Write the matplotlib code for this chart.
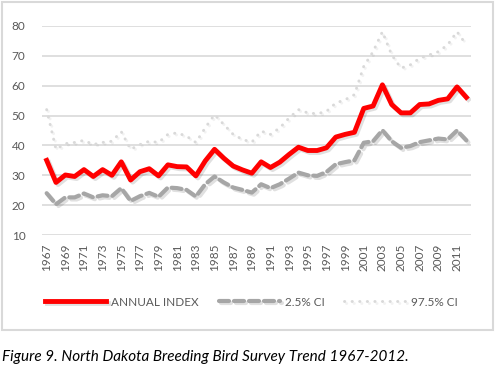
import matplotlib
matplotlib.use("Agg")
import matplotlib.pyplot as plt
import matplotlib.patheffects as pe
from matplotlib.patches import Rectangle

plt.rcParams['font.family'] = ['Lato', 'DejaVu Sans']

# categorias (años)
years = list(range(1967, 2013))

# indice anual
annual_index = [35.0, 27.6, 30.1, 29.6, 31.9, 29.6, 31.9, 30.0, 34.5, 28.4,
                31.2, 32.2, 29.8, 33.5, 32.9, 32.8, 29.8, 34.8, 38.7, 35.7,
                33.1, 31.8, 30.7, 34.5, 32.6, 34.4, 37.0, 39.4, 38.3, 38.3,
                39.2, 42.8, 43.7, 44.4, 52.4, 53.2, 60.3, 53.7, 50.9, 50.9,
                53.7, 53.9, 55.1, 55.6, 59.6, 56.1]

# limite inferior 2.5%
ci_low = [24.0, 20.3, 22.6, 22.6, 23.9, 22.6, 23.3, 23.0, 25.7, 21.4,
          23.0, 24.1, 22.8, 25.9, 25.7, 25.1, 22.9, 27.0, 29.6, 27.6,
          25.9, 25.1, 24.2, 27.0, 25.7, 27.0, 28.9, 30.9, 30.0, 29.8,
          31.1, 33.7, 34.4, 35.0, 40.9, 41.4, 45.1, 41.4, 39.2, 39.8,
          41.1, 41.7, 42.3, 42.0, 45.0, 41.7]

# limite superior 97.5%
ci_high = [52.0, 38.7, 40.6, 41.0, 41.7, 40.3, 41.0, 41.4, 44.6, 38.7,
           40.3, 41.4, 41.0, 43.7, 44.2, 43.1, 41.0, 45.9, 50.3, 47.0,
           43.7, 42.0, 41.1, 44.8, 43.7, 45.9, 49.2, 52.0, 50.9, 50.6,
           51.4, 54.2, 55.3, 57.0, 66.5, 71.4, 78.1, 70.3, 65.9, 67.0,
           69.2, 70.3, 71.4, 73.7, 78.1, 73.7]

W, H = 497, 368
fig = plt.figure(figsize=(W / 100, H / 100), dpi=100)

# marco del grafico
fig.patches.append(Rectangle((2 / W, 1 - 330 / H), 491 / W, 328 / H,
                             transform=fig.transFigure, fill=False,
                             edgecolor='#d9d9d9', linewidth=1.5))

ax = fig.add_axes([42 / W, 1 - 235 / H, 429 / W, 209 / H])
x = list(range(len(years)))

sombra = [pe.SimpleLineShadow(offset=(1.5, -1.5), shadow_color='k', alpha=0.12),
          pe.Normal()]
sombra_suave = [pe.SimpleLineShadow(offset=(1.2, -1.2), shadow_color='k', alpha=0.05),
                pe.Normal()]

ax.plot(x, ci_high, color='#d9d9d9', linewidth=2.1, linestyle=(0, (0.1, 2.5)),
        dash_capstyle='round', solid_capstyle='round', label='97.5% CI',
        path_effects=sombra_suave, zorder=3)
ax.plot(x, ci_low, color='#a6a6a6', linewidth=3.0, linestyle=(0, (2.4, 1.2)),
        dash_capstyle='round', label='2.5% CI', path_effects=sombra, zorder=4)
ax.plot(x, annual_index, color='#ff0000', linewidth=3.5, solid_joinstyle='round',
        label='ANNUAL INDEX', path_effects=sombra, zorder=5)

ax.set_xlim(-0.5, len(years) - 0.5)
ax.set_ylim(10, 80)
ax.set_yticks(range(10, 81, 10))
ax.set_xticks(x[::2])
ax.set_xticklabels([str(y) for y in years[::2]], rotation=90)
ax.tick_params(axis='both', length=0, labelsize=8.5, colors='#595959')
ax.tick_params(axis='y', pad=12)
ax.tick_params(axis='x', pad=6)
ax.grid(axis='y', color='#d9d9d9', linewidth=1.2)
ax.set_axisbelow(True)
for s in ax.spines.values():
    s.set_visible(False)

handles, labels = ax.get_legend_handles_labels()
orden = [2, 1, 0]
leg = fig.legend([handles[i] for i in orden], [labels[i] for i in orden],
                 ncol=3, loc='center', bbox_to_anchor=(251 / W, 1 - 302 / H),
                 frameon=False, fontsize=8.5, handlelength=5.2,
                 handletextpad=0.4, columnspacing=1.7, labelcolor='#595959')

fig.text(2 / W, 1 - 357 / H,
         'Figure 9. North Dakota Breeding Bird Survey Trend 1967-2012.',
         fontsize=11, fontstyle='italic', va='center', ha='left')

fig.savefig('out.png', dpi=100)
